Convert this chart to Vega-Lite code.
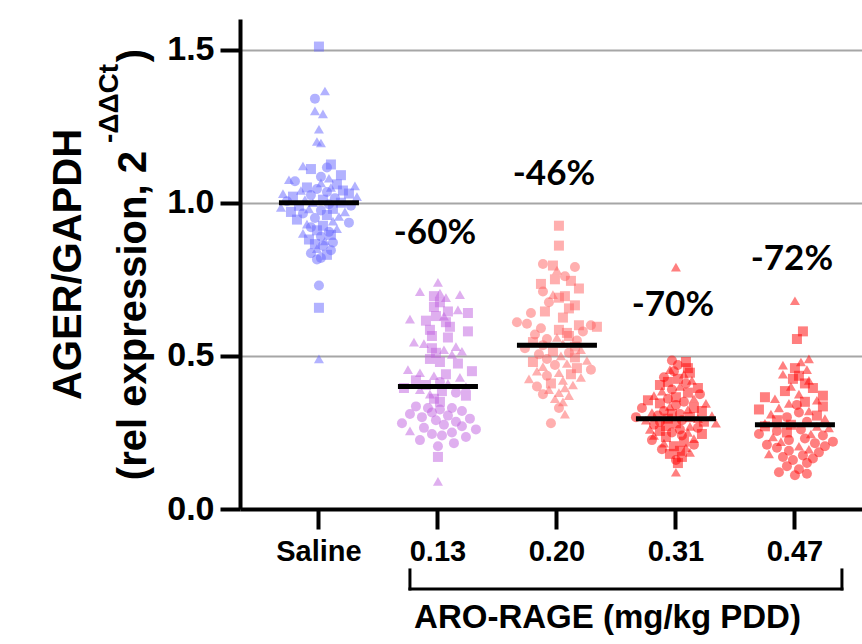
{
  "$schema": "https://vega.github.io/schema/vega-lite/v6.json",
  "width": 622,
  "height": 490,
  "autosize": {"type": "none"},
  "padding": {"left": 240, "top": 19, "right": 0, "bottom": 135},
  "config": {"view": {"stroke": null}, "font": "Liberation Sans"},
  "datasets": {
    "pts": [
      {"g":"Saline","v":1.51,"j":0,"s":"s"},{"g":"Saline","v":1.365,"j":0.15,"s":"t"},{"g":"Saline","v":1.34,"j":-0.1,"s":"c"},{"g":"Saline","v":1.30,"j":-0.1,"s":"t"},{"g":"Saline","v":1.29,"j":0.1,"s":"t"},{"g":"Saline","v":1.24,"j":0,"s":"t"},{"g":"Saline","v":1.20,"j":-0.05,"s":"t"},{"g":"Saline","v":1.195,"j":0.05,"s":"t"},{"g":"Saline","v":0.73,"j":0,"s":"c"},{"g":"Saline","v":0.657,"j":0,"s":"s"},{"g":"Saline","v":0.49,"j":0,"s":"t"},
      {"g":"Saline","v":1.125,"j":0.3,"s":"s"},{"g":"Saline","v":1.12,"j":-0.4,"s":"t"},{"g":"Saline","v":1.115,"j":0.2,"s":"c"},{"g":"Saline","v":1.11,"j":-0.2,"s":"s"},{"g":"Saline","v":1.09,"j":0.55,"s":"s"},{"g":"Saline","v":1.085,"j":0.05,"s":"c"},{"g":"Saline","v":1.08,"j":0.25,"s":"t"},{"g":"Saline","v":1.075,"j":-0.75,"s":"t"},{"g":"Saline","v":1.07,"j":-0.6,"s":"c"},{"g":"Saline","v":1.065,"j":0.05,"s":"t"},
      {"g":"Saline","v":1.06,"j":0.45,"s":"s"},{"g":"Saline","v":1.055,"j":0.9,"s":"t"},{"g":"Saline","v":1.05,"j":-0.3,"s":"s"},{"g":"Saline","v":1.05,"j":0.3,"s":"t"},{"g":"Saline","v":1.045,"j":-0.05,"s":"c"},{"g":"Saline","v":1.04,"j":0.6,"s":"s"},{"g":"Saline","v":1.04,"j":-0.45,"s":"t"},{"g":"Saline","v":1.035,"j":0.2,"s":"c"},{"g":"Saline","v":1.03,"j":-0.9,"s":"t"},{"g":"Saline","v":1.03,"j":0.75,"s":"s"},{"g":"Saline","v":1.025,"j":-0.2,"s":"c"},{"g":"Saline","v":1.02,"j":0.95,"s":"t"},{"g":"Saline","v":1.02,"j":-0.65,"s":"s"},{"g":"Saline","v":1.015,"j":0.4,"s":"c"},{"g":"Saline","v":1.01,"j":-0.35,"s":"t"},{"g":"Saline","v":1.01,"j":0.1,"s":"s"},{"g":"Saline","v":1.005,"j":-0.8,"s":"c"},{"g":"Saline","v":1.0,"j":0.55,"s":"s"},{"g":"Saline","v":1.0,"j":-0.15,"s":"t"},{"g":"Saline","v":0.995,"j":0.25,"s":"c"},{"g":"Saline","v":0.99,"j":-0.5,"s":"s"},{"g":"Saline","v":0.99,"j":0.8,"s":"c"},{"g":"Saline","v":0.985,"j":-0.95,"s":"t"},{"g":"Saline","v":0.98,"j":0.35,"s":"s"},{"g":"Saline","v":0.98,"j":-0.25,"s":"t"},{"g":"Saline","v":0.975,"j":0.05,"s":"c"},{"g":"Saline","v":0.97,"j":-0.7,"s":"s"},{"g":"Saline","v":0.97,"j":0.65,"s":"t"},{"g":"Saline","v":0.965,"j":-0.4,"s":"c"},{"g":"Saline","v":0.96,"j":0.2,"s":"s"},{"g":"Saline","v":0.955,"j":0.5,"s":"t"},{"g":"Saline","v":0.95,"j":-0.1,"s":"c"},{"g":"Saline","v":0.945,"j":-0.55,"s":"s"},{"g":"Saline","v":0.94,"j":0.35,"s":"t"},{"g":"Saline","v":0.935,"j":0.75,"s":"c"},{"g":"Saline","v":0.93,"j":-0.3,"s":"t"},{"g":"Saline","v":0.925,"j":0.1,"s":"s"},{"g":"Saline","v":0.92,"j":-0.2,"s":"c"},{"g":"Saline","v":0.915,"j":0.45,"s":"t"},{"g":"Saline","v":0.91,"j":-0.05,"s":"s"},{"g":"Saline","v":0.905,"j":0.25,"s":"c"},{"g":"Saline","v":0.90,"j":-0.4,"s":"t"},{"g":"Saline","v":0.895,"j":0.3,"s":"s"},{"g":"Saline","v":0.89,"j":0.05,"s":"c"},{"g":"Saline","v":0.88,"j":-0.25,"s":"s"},{"g":"Saline","v":0.875,"j":0.15,"s":"t"},{"g":"Saline","v":0.87,"j":0.35,"s":"c"},{"g":"Saline","v":0.865,"j":-0.1,"s":"s"},{"g":"Saline","v":0.86,"j":0.1,"s":"c"},{"g":"Saline","v":0.85,"j":-0.05,"s":"t"},{"g":"Saline","v":0.845,"j":0.3,"s":"c"},{"g":"Saline","v":0.835,"j":-0.2,"s":"c"},{"g":"Saline","v":0.83,"j":0.2,"s":"s"},{"g":"Saline","v":0.82,"j":0.05,"s":"c"},{"g":"Saline","v":0.815,"j":-0.05,"s":"c"},
      {"g":"0.13","v":0.74,"j":0,"s":"t"},{"g":"0.13","v":0.71,"j":-0.45,"s":"t"},{"g":"0.13","v":0.705,"j":0.05,"s":"t"},{"g":"0.13","v":0.70,"j":0.55,"s":"t"},{"g":"0.13","v":0.695,"j":-0.1,"s":"s"},{"g":"0.13","v":0.69,"j":0.2,"s":"t"},{"g":"0.13","v":0.675,"j":0.05,"s":"s"},{"g":"0.13","v":0.66,"j":-0.1,"s":"s"},{"g":"0.13","v":0.65,"j":0.5,"s":"t"},{"g":"0.13","v":0.645,"j":0.25,"s":"s"},{"g":"0.13","v":0.64,"j":0.75,"s":"s"},{"g":"0.13","v":0.63,"j":-0.05,"s":"s"},{"g":"0.13","v":0.63,"j":0.15,"s":"t"},{"g":"0.13","v":0.62,"j":-0.7,"s":"t"},{"g":"0.13","v":0.615,"j":-0.3,"s":"s"},{"g":"0.13","v":0.61,"j":0.2,"s":"s"},{"g":"0.13","v":0.595,"j":0.3,"s":"s"},{"g":"0.13","v":0.585,"j":-0.2,"s":"s"},{"g":"0.13","v":0.58,"j":0.75,"s":"s"},{"g":"0.13","v":0.565,"j":-0.15,"s":"s"},{"g":"0.13","v":0.56,"j":0.25,"s":"s"},{"g":"0.13","v":0.545,"j":-0.6,"s":"t"},{"g":"0.13","v":0.54,"j":-0.35,"s":"t"},{"g":"0.13","v":0.53,"j":0.45,"s":"t"},{"g":"0.13","v":0.525,"j":-0.15,"s":"s"},{"g":"0.13","v":0.52,"j":0.15,"s":"t"},{"g":"0.13","v":0.515,"j":0.6,"s":"t"},{"g":"0.13","v":0.51,"j":-0.05,"s":"s"},{"g":"0.13","v":0.505,"j":0.35,"s":"t"},{"g":"0.13","v":0.49,"j":-0.2,"s":"s"},{"g":"0.13","v":0.48,"j":0.05,"s":"s"},{"g":"0.13","v":0.475,"j":0.5,"s":"s"},{"g":"0.13","v":0.455,"j":-0.75,"s":"t"},{"g":"0.13","v":0.45,"j":0.85,"s":"s"},{"g":"0.13","v":0.445,"j":-0.45,"s":"t"},{"g":"0.13","v":0.44,"j":0.2,"s":"s"},{"g":"0.13","v":0.435,"j":-0.1,"s":"t"},{"g":"0.13","v":0.43,"j":0.55,"s":"t"},{"g":"0.13","v":0.42,"j":-0.55,"s":"s"},{"g":"0.13","v":0.415,"j":0.05,"s":"c"},{"g":"0.13","v":0.41,"j":0.25,"s":"t"},{"g":"0.13","v":0.405,"j":-0.3,"s":"s"},{"g":"0.13","v":0.40,"j":0.7,"s":"t"},{"g":"0.13","v":0.395,"j":-0.85,"s":"s"},{"g":"0.13","v":0.39,"j":-0.45,"s":"t"},{"g":"0.13","v":0.385,"j":0.1,"s":"s"},{"g":"0.13","v":0.38,"j":0.45,"s":"c"},{"g":"0.13","v":0.375,"j":-0.2,"s":"t"},{"g":"0.13","v":0.37,"j":0.7,"s":"s"},{"g":"0.13","v":0.36,"j":-0.1,"s":"s"},{"g":"0.13","v":0.35,"j":0.05,"s":"s"},{"g":"0.13","v":0.335,"j":-0.55,"s":"c"},{"g":"0.13","v":0.33,"j":-0.25,"s":"c"},{"g":"0.13","v":0.33,"j":0.35,"s":"c"},{"g":"0.13","v":0.325,"j":0.05,"s":"c"},{"g":"0.13","v":0.32,"j":0.6,"s":"c"},{"g":"0.13","v":0.315,"j":-0.15,"s":"c"},{"g":"0.13","v":0.31,"j":-0.7,"s":"c"},{"g":"0.13","v":0.305,"j":0.25,"s":"c"},{"g":"0.13","v":0.30,"j":-0.4,"s":"c"},{"g":"0.13","v":0.295,"j":0.8,"s":"c"},{"g":"0.13","v":0.29,"j":-0.05,"s":"c"},{"g":"0.13","v":0.285,"j":0.45,"s":"c"},{"g":"0.13","v":0.28,"j":-0.9,"s":"c"},{"g":"0.13","v":0.275,"j":0.15,"s":"c"},{"g":"0.13","v":0.27,"j":0.6,"s":"c"},{"g":"0.13","v":0.265,"j":-0.35,"s":"c"},{"g":"0.13","v":0.26,"j":0.95,"s":"c"},{"g":"0.13","v":0.255,"j":-0.7,"s":"t"},{"g":"0.13","v":0.25,"j":0.35,"s":"c"},{"g":"0.13","v":0.245,"j":-0.15,"s":"c"},{"g":"0.13","v":0.24,"j":0.1,"s":"c"},{"g":"0.13","v":0.235,"j":0.7,"s":"c"},{"g":"0.13","v":0.225,"j":-0.45,"s":"c"},{"g":"0.13","v":0.215,"j":0.4,"s":"c"},{"g":"0.13","v":0.205,"j":0.0,"s":"c"},{"g":"0.13","v":0.17,"j":0,"s":"s"},{"g":"0.13","v":0.09,"j":0,"s":"t"},
      {"g":"0.20","v":0.925,"j":0.05,"s":"s"},{"g":"0.20","v":0.86,"j":0.05,"s":"s"},{"g":"0.20","v":0.80,"j":-0.35,"s":"c"},{"g":"0.20","v":0.795,"j":-0.1,"s":"s"},{"g":"0.20","v":0.79,"j":0.45,"s":"c"},{"g":"0.20","v":0.78,"j":0.0,"s":"t"},{"g":"0.20","v":0.76,"j":0.2,"s":"c"},{"g":"0.20","v":0.75,"j":-0.05,"s":"s"},{"g":"0.20","v":0.745,"j":0.35,"s":"s"},{"g":"0.20","v":0.735,"j":-0.4,"s":"s"},{"g":"0.20","v":0.72,"j":0.55,"s":"s"},{"g":"0.20","v":0.71,"j":-0.35,"s":"c"},{"g":"0.20","v":0.70,"j":-0.1,"s":"t"},{"g":"0.20","v":0.695,"j":0.2,"s":"s"},{"g":"0.20","v":0.69,"j":0.05,"s":"s"},{"g":"0.20","v":0.675,"j":-0.2,"s":"c"},{"g":"0.20","v":0.665,"j":0.45,"s":"s"},{"g":"0.20","v":0.655,"j":0.3,"s":"s"},{"g":"0.20","v":0.645,"j":-0.3,"s":"s"},{"g":"0.20","v":0.64,"j":-0.65,"s":"c"},{"g":"0.20","v":0.625,"j":0.15,"s":"s"},{"g":"0.20","v":0.61,"j":-1.0,"s":"c"},{"g":"0.20","v":0.605,"j":-0.75,"s":"c"},{"g":"0.20","v":0.60,"j":0.55,"s":"s"},{"g":"0.20","v":0.60,"j":0.85,"s":"c"},{"g":"0.20","v":0.595,"j":1.0,"s":"s"},{"g":"0.20","v":0.59,"j":-0.4,"s":"c"},{"g":"0.20","v":0.585,"j":0.05,"s":"s"},{"g":"0.20","v":0.58,"j":0.65,"s":"c"},{"g":"0.20","v":0.575,"j":0.25,"s":"s"},{"g":"0.20","v":0.57,"j":-0.55,"s":"c"},{"g":"0.20","v":0.565,"j":0.3,"s":"s"},{"g":"0.20","v":0.56,"j":0.0,"s":"t"},{"g":"0.20","v":0.555,"j":-0.25,"s":"c"},{"g":"0.20","v":0.55,"j":0.5,"s":"c"},{"g":"0.20","v":0.545,"j":-0.6,"s":"s"},{"g":"0.20","v":0.54,"j":0.15,"s":"t"},{"g":"0.20","v":0.535,"j":-0.35,"s":"c"},{"g":"0.20","v":0.53,"j":0.45,"s":"s"},{"g":"0.20","v":0.525,"j":-0.8,"s":"c"},{"g":"0.20","v":0.52,"j":0.6,"s":"t"},{"g":"0.20","v":0.515,"j":-0.1,"s":"s"},{"g":"0.20","v":0.51,"j":0.3,"s":"c"},{"g":"0.20","v":0.505,"j":-0.45,"s":"c"},{"g":"0.20","v":0.50,"j":0.1,"s":"t"},{"g":"0.20","v":0.495,"j":0.45,"s":"s"},{"g":"0.20","v":0.49,"j":-0.25,"s":"c"},{"g":"0.20","v":0.485,"j":0.75,"s":"t"},{"g":"0.20","v":0.48,"j":-0.6,"s":"s"},{"g":"0.20","v":0.475,"j":0.25,"s":"t"},{"g":"0.20","v":0.47,"j":-0.05,"s":"c"},{"g":"0.20","v":0.465,"j":-0.35,"s":"t"},{"g":"0.20","v":0.46,"j":0.5,"s":"s"},{"g":"0.20","v":0.455,"j":0.85,"s":"c"},{"g":"0.20","v":0.45,"j":-0.5,"s":"t"},{"g":"0.20","v":0.445,"j":0.05,"s":"t"},{"g":"0.20","v":0.44,"j":0.35,"s":"s"},{"g":"0.20","v":0.435,"j":-0.25,"s":"c"},{"g":"0.20","v":0.43,"j":0.6,"s":"t"},{"g":"0.20","v":0.425,"j":-0.7,"s":"t"},{"g":"0.20","v":0.42,"j":0.15,"s":"t"},{"g":"0.20","v":0.41,"j":-0.15,"s":"s"},{"g":"0.20","v":0.405,"j":0.4,"s":"t"},{"g":"0.20","v":0.40,"j":-0.5,"s":"c"},{"g":"0.20","v":0.395,"j":0.2,"s":"t"},{"g":"0.20","v":0.39,"j":-0.2,"s":"t"},{"g":"0.20","v":0.38,"j":0.05,"s":"t"},{"g":"0.20","v":0.375,"j":-0.35,"s":"c"},{"g":"0.20","v":0.37,"j":0.3,"s":"t"},{"g":"0.20","v":0.36,"j":-0.05,"s":"t"},{"g":"0.20","v":0.35,"j":0.15,"s":"t"},{"g":"0.20","v":0.33,"j":0.05,"s":"c"},{"g":"0.20","v":0.31,"j":0.2,"s":"t"},{"g":"0.20","v":0.28,"j":-0.15,"s":"c"},
      {"g":"0.31","v":0.79,"j":0,"s":"t"},{"g":"0.31","v":0.485,"j":-0.1,"s":"c"},{"g":"0.31","v":0.48,"j":0.25,"s":"s"},{"g":"0.31","v":0.47,"j":0.05,"s":"c"},{"g":"0.31","v":0.46,"j":0.3,"s":"s"},{"g":"0.31","v":0.455,"j":-0.15,"s":"t"},{"g":"0.31","v":0.45,"j":-0.05,"s":"c"},{"g":"0.31","v":0.445,"j":0.35,"s":"s"},{"g":"0.31","v":0.44,"j":0.2,"s":"t"},{"g":"0.31","v":0.43,"j":-0.3,"s":"c"},{"g":"0.31","v":0.425,"j":0.05,"s":"s"},{"g":"0.31","v":0.42,"j":0.4,"s":"t"},{"g":"0.31","v":0.415,"j":-0.2,"s":"s"},{"g":"0.31","v":0.41,"j":0.25,"s":"c"},{"g":"0.31","v":0.405,"j":-0.4,"s":"s"},{"g":"0.31","v":0.40,"j":0.1,"s":"t"},{"g":"0.31","v":0.395,"j":0.55,"s":"s"},{"g":"0.31","v":0.39,"j":-0.1,"s":"c"},{"g":"0.31","v":0.385,"j":-0.35,"s":"t"},{"g":"0.31","v":0.38,"j":0.3,"s":"s"},{"g":"0.31","v":0.375,"j":0.6,"s":"c"},{"g":"0.31","v":0.37,"j":-0.55,"s":"t"},{"g":"0.31","v":0.365,"j":0.0,"s":"s"},{"g":"0.31","v":0.36,"j":-0.2,"s":"c"},{"g":"0.31","v":0.36,"j":0.45,"s":"t"},{"g":"0.31","v":0.355,"j":-0.7,"s":"s"},{"g":"0.31","v":0.35,"j":0.2,"s":"c"},{"g":"0.31","v":0.345,"j":0.75,"s":"t"},{"g":"0.31","v":0.345,"j":-0.4,"s":"s"},{"g":"0.31","v":0.34,"j":0.0,"s":"c"},{"g":"0.31","v":0.335,"j":-0.15,"s":"t"},{"g":"0.31","v":0.33,"j":0.45,"s":"s"},{"g":"0.31","v":0.33,"j":-0.85,"s":"c"},{"g":"0.31","v":0.325,"j":0.3,"s":"t"},{"g":"0.31","v":0.32,"j":-0.3,"s":"c"},{"g":"0.31","v":0.32,"j":0.65,"s":"s"},{"g":"0.31","v":0.315,"j":-0.6,"s":"t"},{"g":"0.31","v":0.31,"j":0.1,"s":"c"},{"g":"0.31","v":0.31,"j":-0.1,"s":"s"},{"g":"0.31","v":0.305,"j":0.9,"s":"t"},{"g":"0.31","v":0.305,"j":-0.45,"s":"c"},{"g":"0.31","v":0.30,"j":0.35,"s":"s"},{"g":"0.31","v":0.30,"j":-1.0,"s":"c"},{"g":"0.31","v":0.295,"j":0.55,"s":"t"},{"g":"0.31","v":0.295,"j":-0.2,"s":"s"},{"g":"0.31","v":0.29,"j":0.15,"s":"c"},{"g":"0.31","v":0.29,"j":-0.75,"s":"t"},{"g":"0.31","v":0.285,"j":0.7,"s":"s"},{"g":"0.31","v":0.285,"j":-0.4,"s":"c"},{"g":"0.31","v":0.28,"j":1.0,"s":"t"},{"g":"0.31","v":0.28,"j":0.0,"s":"s"},{"g":"0.31","v":0.275,"j":-0.55,"s":"c"},{"g":"0.31","v":0.27,"j":0.35,"s":"t"},{"g":"0.31","v":0.27,"j":-0.25,"s":"s"},{"g":"0.31","v":0.265,"j":0.55,"s":"c"},{"g":"0.31","v":0.26,"j":-0.65,"s":"t"},{"g":"0.31","v":0.26,"j":0.1,"s":"c"},{"g":"0.31","v":0.255,"j":-0.4,"s":"s"},{"g":"0.31","v":0.25,"j":0.3,"s":"t"},{"g":"0.31","v":0.25,"j":-0.1,"s":"c"},{"g":"0.31","v":0.245,"j":0.65,"s":"s"},{"g":"0.31","v":0.24,"j":-0.55,"s":"t"},{"g":"0.31","v":0.24,"j":0.15,"s":"c"},{"g":"0.31","v":0.235,"j":-0.25,"s":"s"},{"g":"0.31","v":0.23,"j":0.45,"s":"t"},{"g":"0.31","v":0.225,"j":-0.6,"s":"c"},{"g":"0.31","v":0.22,"j":0.2,"s":"s"},{"g":"0.31","v":0.215,"j":-0.3,"s":"t"},{"g":"0.31","v":0.21,"j":0.45,"s":"c"},{"g":"0.31","v":0.205,"j":-0.05,"s":"s"},{"g":"0.31","v":0.20,"j":0.25,"s":"t"},{"g":"0.31","v":0.195,"j":-0.35,"s":"c"},{"g":"0.31","v":0.19,"j":0.1,"s":"s"},{"g":"0.31","v":0.185,"j":0.35,"s":"t"},{"g":"0.31","v":0.18,"j":-0.15,"s":"s"},{"g":"0.31","v":0.17,"j":0.15,"s":"s"},{"g":"0.31","v":0.16,"j":0.0,"s":"c"},{"g":"0.31","v":0.15,"j":0.05,"s":"s"},{"g":"0.31","v":0.12,"j":0.0,"s":"t"},
      {"g":"0.47","v":0.68,"j":0.0,"s":"t"},{"g":"0.47","v":0.58,"j":0.2,"s":"s"},{"g":"0.47","v":0.555,"j":0.05,"s":"s"},{"g":"0.47","v":0.49,"j":0.35,"s":"t"},{"g":"0.47","v":0.48,"j":0.15,"s":"t"},{"g":"0.47","v":0.47,"j":-0.3,"s":"t"},{"g":"0.47","v":0.46,"j":0.0,"s":"s"},{"g":"0.47","v":0.455,"j":0.3,"s":"t"},{"g":"0.47","v":0.44,"j":-0.3,"s":"t"},{"g":"0.47","v":0.435,"j":0.1,"s":"s"},{"g":"0.47","v":0.425,"j":-0.05,"s":"s"},{"g":"0.47","v":0.42,"j":0.35,"s":"t"},{"g":"0.47","v":0.41,"j":0.25,"s":"s"},{"g":"0.47","v":0.40,"j":-0.1,"s":"t"},{"g":"0.47","v":0.395,"j":0.45,"s":"s"},{"g":"0.47","v":0.385,"j":-0.25,"s":"s"},{"g":"0.47","v":0.375,"j":0.1,"s":"t"},{"g":"0.47","v":0.37,"j":0.7,"s":"s"},{"g":"0.47","v":0.365,"j":-0.75,"s":"s"},{"g":"0.47","v":0.36,"j":-0.5,"s":"t"},{"g":"0.47","v":0.355,"j":0.55,"s":"t"},{"g":"0.47","v":0.35,"j":0.25,"s":"s"},{"g":"0.47","v":0.345,"j":-0.15,"s":"t"},{"g":"0.47","v":0.34,"j":0.05,"s":"c"},{"g":"0.47","v":0.335,"j":0.7,"s":"s"},{"g":"0.47","v":0.33,"j":-0.4,"s":"t"},{"g":"0.47","v":0.325,"j":-0.9,"s":"s"},{"g":"0.47","v":0.32,"j":0.35,"s":"t"},{"g":"0.47","v":0.315,"j":0.1,"s":"c"},{"g":"0.47","v":0.31,"j":-0.6,"s":"t"},{"g":"0.47","v":0.305,"j":0.55,"s":"s"},{"g":"0.47","v":0.30,"j":-0.2,"s":"c"},{"g":"0.47","v":0.295,"j":0.75,"s":"t"},{"g":"0.47","v":0.29,"j":-0.45,"s":"s"},{"g":"0.47","v":0.285,"j":0.3,"s":"c"},{"g":"0.47","v":0.28,"j":-0.75,"s":"t"},{"g":"0.47","v":0.275,"j":-0.1,"s":"s"},{"g":"0.47","v":0.27,"j":-0.75,"s":"s"},{"g":"0.47","v":0.27,"j":0.55,"s":"t"},{"g":"0.47","v":0.265,"j":0.85,"s":"t"},{"g":"0.47","v":0.26,"j":0.15,"s":"c"},{"g":"0.47","v":0.255,"j":-0.45,"s":"c"},{"g":"0.47","v":0.25,"j":-0.2,"s":"s"},{"g":"0.47","v":0.245,"j":0.4,"s":"t"},{"g":"0.47","v":0.245,"j":-0.9,"s":"c"},{"g":"0.47","v":0.24,"j":0.7,"s":"c"},{"g":"0.47","v":0.235,"j":-0.55,"s":"t"},{"g":"0.47","v":0.23,"j":0.25,"s":"c"},{"g":"0.47","v":0.225,"j":-0.15,"s":"c"},{"g":"0.47","v":0.22,"j":0.95,"s":"c"},{"g":"0.47","v":0.22,"j":-0.35,"s":"t"},{"g":"0.47","v":0.215,"j":0.5,"s":"c"},{"g":"0.47","v":0.21,"j":-0.7,"s":"c"},{"g":"0.47","v":0.205,"j":0.1,"s":"t"},{"g":"0.47","v":0.205,"j":0.75,"s":"c"},{"g":"0.47","v":0.20,"j":-0.45,"s":"c"},{"g":"0.47","v":0.195,"j":0.35,"s":"t"},{"g":"0.47","v":0.19,"j":-0.15,"s":"c"},{"g":"0.47","v":0.185,"j":0.6,"s":"c"},{"g":"0.47","v":0.18,"j":-0.65,"s":"t"},{"g":"0.47","v":0.175,"j":0.2,"s":"c"},{"g":"0.47","v":0.17,"j":-0.3,"s":"c"},{"g":"0.47","v":0.165,"j":0.45,"s":"c"},{"g":"0.47","v":0.16,"j":-0.05,"s":"c"},{"g":"0.47","v":0.15,"j":0.3,"s":"c"},{"g":"0.47","v":0.14,"j":-0.2,"s":"c"},{"g":"0.47","v":0.13,"j":0.1,"s":"c"},{"g":"0.47","v":0.12,"j":-0.4,"s":"c"},{"g":"0.47","v":0.115,"j":0.3,"s":"c"},{"g":"0.47","v":0.11,"j":0.0,"s":"c"}
    ],
    "med": [
      {"g":"Saline","v":1.0},{"g":"0.13","v":0.40},{"g":"0.20","v":0.535},{"g":"0.31","v":0.295},{"g":"0.47","v":0.275}
    ],
    "lab": [
      {"g":"0.13","v":0.90,"t":"-60%"},{"g":"0.20","v":1.095,"t":"-46%"},{"g":"0.31","v":0.665,"t":"-70%"},{"g":"0.47","v":0.815,"t":"-72%"}
    ]
  },
  "layer": [
    {
      "data": {"name": "pts"},
      "mark": {"type": "point", "filled": true, "size": 100, "strokeWidth": 0},
      "encoding": {
        "x": {"field": "g", "type": "nominal",
          "scale": {"type": "band", "domain": ["Saline","0.13","0.20","0.31","0.47"], "paddingInner": 0.328, "paddingOuter": 0.2775, "align": 0.59},
          "axis": {"labelFontSize": 29, "labelFontWeight": "bold", "labelColor": "black", "labelPadding": 8, "labelAngle": 0,
            "tickSize": 20, "tickWidth": 4, "tickColor": "black", "domainWidth": 4, "domainColor": "black", "grid": false,
            "title": "ARO-RAGE (mg/kg PDD)", "titleFontSize": 33, "titleFontWeight": "bold", "titleColor": "black",
            "titleX": 367, "titleY": 108, "titleAlign": "center", "titleBaseline": "middle"}},
        "xOffset": {"field": "j", "type": "quantitative", "scale": {"domain": [-1, 1]}},
        "y": {"field": "v", "type": "quantitative",
          "scale": {"domain": [0, 1.6], "nice": false},
          "axis": {"values": [0, 0.5, 1, 1.5], "format": ".1f", "labelFontSize": 34, "labelFontWeight": "bold", "labelColor": "black", "labelPadding": 6,
            "tickSize": 20, "tickWidth": 4, "tickColor": "black", "domainWidth": 4, "domainColor": "black",
            "grid": true, "gridColor": "#a6a6a6", "gridWidth": 2,
            "title": ["AGER/GAPDH", "(rel expression, 2\u00a0\u00a0\u00a0\u00a0\u00a0\u00a0\u00a0\u00a0)"],
            "titleFontSize": 40, "titleFontWeight": "bold", "titleColor": "black", "titleAngle": -90,
            "titleX": -160, "titleY": 245, "titleAlign": "center", "titleBaseline": "alphabetic", "titleLineHeight": 65}},
        "shape": {"field": "s", "type": "nominal", "scale": {"domain": ["c","s","t"], "range": ["circle","square","triangle-up"]}, "legend": null},
        "color": {"field": "g", "type": "nominal", "scale": {"domain": ["Saline","0.13","0.20","0.31","0.47"], "range": ["#6666ff","#c060e0","#ff6060","#ff0000","#ff0000"]}, "legend": null},
        "opacity": {"field": "g", "type": "nominal", "scale": {"domain": ["Saline","0.13","0.20","0.31","0.47"], "range": [0.5, 0.5, 0.5, 0.6, 0.82]}, "legend": null}
      }
    },
    {
      "data": {"name": "med"},
      "mark": {"type": "tick", "color": "black", "size": 80, "thickness": 5, "opacity": 1},
      "encoding": {
        "x": {"field": "g", "type": "nominal", "axis": null},
        "y": {"field": "v", "type": "quantitative", "scale": {"domain": [0, 1.6], "nice": false},
          "axis": {"orient": "left", "domain": false, "ticks": false, "labels": false, "grid": false,
            "title": "-ΔΔCt", "titleFontSize": 28, "titleFontWeight": "bold", "titleColor": "black", "titleAngle": -90,
            "titleX": -123, "titleY": 84, "titleAlign": "center", "titleBaseline": "alphabetic"}}
      }
    },
    {
      "data": {"name": "lab"},
      "mark": {"type": "text", "font": "Lato", "fontWeight": "bold", "fontSize": 35, "color": "black", "baseline": "middle", "dx": -3},
      "encoding": {
        "x": {"field": "g", "type": "nominal", "axis": null},
        "y": {"field": "v", "type": "quantitative", "scale": {"domain": [0, 1.6], "nice": false}, "axis": null},
        "text": {"field": "t"}
      }
    },
    {
      "data": {"values": [{"g": "0.13", "b": "0.47", "v": -0.261}]},
      "mark": {"type": "rule", "color": "black", "strokeWidth": 3, "strokeCap": "square", "xOffset": -28, "x2Offset": 47},
      "encoding": {
        "x": {"field": "g", "type": "nominal", "axis": null},
        "x2": {"field": "b"},
        "y": {"field": "v", "type": "quantitative", "scale": {"domain": [0, 1.6], "nice": false}, "axis": null}
      }
    },
    {
      "data": {"values": [{"g": "0.13", "v": -0.199, "v2": -0.261}]},
      "mark": {"type": "rule", "color": "black", "strokeWidth": 3, "strokeCap": "square", "xOffset": -28},
      "encoding": {
        "x": {"field": "g", "type": "nominal", "axis": null},
        "y": {"field": "v", "type": "quantitative", "scale": {"domain": [0, 1.6], "nice": false}, "axis": null},
        "y2": {"field": "v2"}
      }
    },
    {
      "data": {"values": [{"g": "0.47", "v": -0.199, "v2": -0.261}]},
      "mark": {"type": "rule", "color": "black", "strokeWidth": 3, "strokeCap": "square", "xOffset": 47},
      "encoding": {
        "x": {"field": "g", "type": "nominal", "axis": null},
        "y": {"field": "v", "type": "quantitative", "scale": {"domain": [0, 1.6], "nice": false}, "axis": null},
        "y2": {"field": "v2"}
      }
    }
  ],
  "resolve": {"axis": {"x": "independent", "y": "independent"}}
}
